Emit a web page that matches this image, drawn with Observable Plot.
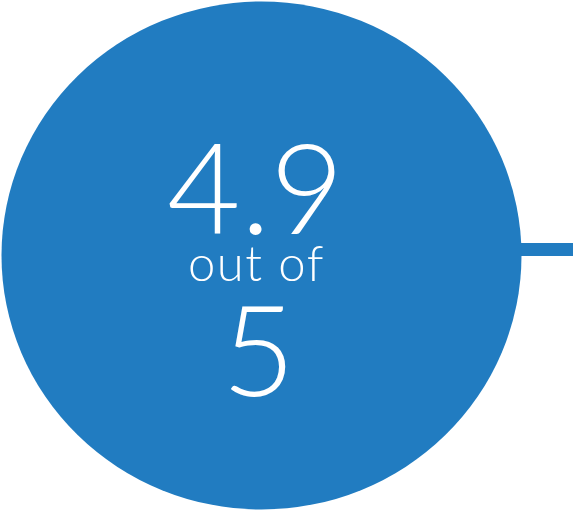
<!DOCTYPE html>
<html>
<head>
<meta charset="utf-8">
<script src="https://cdn.jsdelivr.net/npm/d3@7"></script>
<script src="https://cdn.jsdelivr.net/npm/@observablehq/plot@0.6"></script>
<style>
  html, body { margin: 0; padding: 0; background: #fff; }
  #chart svg { display: block; }
</style>
</head>
<body>
<div id="chart"></div>
<script>
// Data
const scores = [4.9];
const maxScores = [5];
const connectorLabels = ["out of"];

const W = 576, H = 511;
const cx = 261, cy = 255, rx = 260, ry = 254;
const blue = "#217cc1";

const rows = scores.map((s, i) => ({score: s, max: maxScores[i], label: connectorLabels[i]}));

function spaced(px) {
  return function(index, scales, values, dimensions, context, next) {
    const g = next(index, scales, values, dimensions, context);
    g.setAttribute("letter-spacing", px);
    return g;
  };
}

const plot = Plot.plot({
  width: W,
  height: H,
  margin: 0,
  x: {domain: [0, W], range: [0, W], axis: null},
  y: {domain: [0, H], range: [0, H], axis: null},
  style: {background: "white"},
  marks: [
    Plot.ruleY(rows, {y: () => 249, x1: () => cx + rx - 5, x2: () => 573, stroke: blue, strokeWidth: 13}),
    Plot.dot(rows, {
      x: () => cx, y: () => cy, r: rx, fill: blue, stroke: "none",
      render(index, scales, values, dimensions, context, next) {
        const g = next(index, scales, values, dimensions, context);
        const c = g.querySelector("circle");
        if (c) {
          const px = +c.getAttribute("cx"), py = +c.getAttribute("cy");
          c.setAttribute("transform", `translate(${px},${py}) scale(1,${ry / rx}) translate(${-px},${-py})`);
        }
        return g;
      }
    }),
    Plot.text(rows, {x: () => 255, y: () => 233, text: d => d.score.toFixed(1), fill: "white",
      fontSize: 127, fontWeight: 300, fontFamily: "Lato", textAnchor: "middle", lineAnchor: "bottom"}),
    Plot.text(rows, {x: () => 256, y: () => 280, text: d => d.label, fill: "white",
      fontSize: 49, fontWeight: 300, fontFamily: "Lato", textAnchor: "middle", lineAnchor: "bottom",
      render: spaced("1.5px")}),
    Plot.text(rows, {x: () => 258, y: () => 395, text: d => String(d.max), fill: "white",
      fontSize: 127, fontWeight: 300, fontFamily: "Lato", textAnchor: "middle", lineAnchor: "bottom"})
  ]
});
document.getElementById("chart").appendChild(plot);
</script>
</body>
</html>
